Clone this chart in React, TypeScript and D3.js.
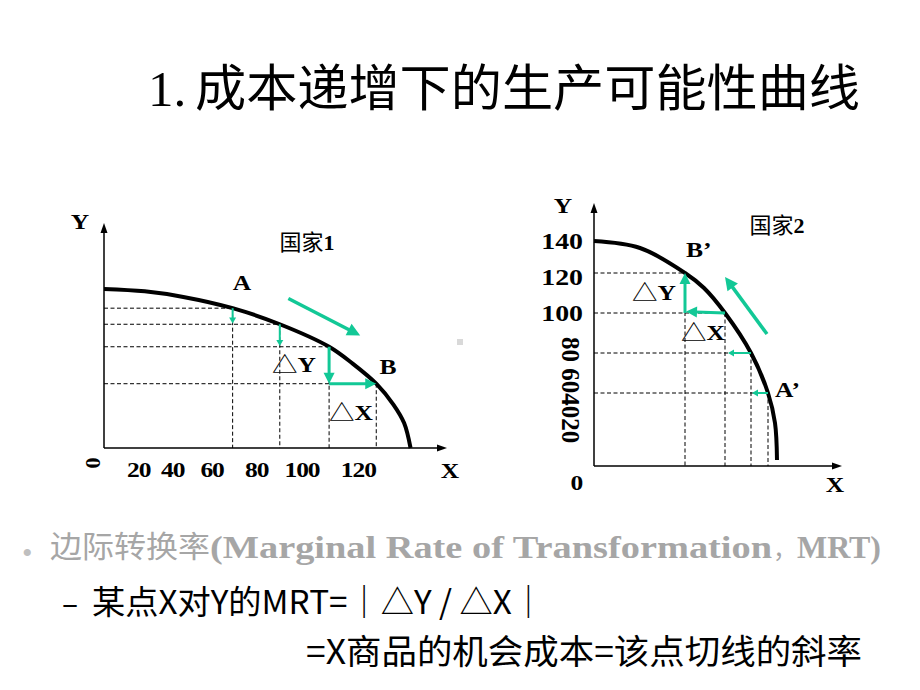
import React from 'react';
import * as d3 from 'd3';

// ---------- data ----------
// Country 1: production possibility curve (X output, Y output)
const curve1X = [0, 19, 37, 60, 82, 105, 116, 127, 135, 140, 143];
const curve1Y = [99, 97.5, 94, 87, 77, 63, 52.5, 40, 27, 15.5, 0];
// marked points on curve 1: A, two intermediate points, B
const pts1X = [60, 82, 105, 127];
const pts1Y = [87, 77, 63, 40];
const xTickLabels1 = ['20', '40', '60', '80', '100', '120'];

// Country 2: production possibility curve
const curve2X = [0, 23, 45.5, 55, 65.5, 78.5, 87, 90.5, 91.5];
const curve2Y = [112.5, 109, 96.5, 89, 76.5, 56.5, 36.5, 21.5, 3];
// marked points on curve 2: B', two intermediate points, A'
const pts2X = [45.5, 65.5, 78.5, 87];
const pts2Y = [96.5, 76.5, 56.5, 36.5];
const yTickLabels2 = ['140', '120', '100'];
const yTickLabels2Rot = '80 604020';

// green arrows (from -> to, data units)
const arr1From = [[60, 87], [82, 77], [105, 63], [105, 40], [86, 93]];
const arr1To = [[60, 77.5], [82, 63.5], [105, 40], [127, 40], [119.5, 70]];
const arr2From = [[87, 36.5], [78.5, 56.5], [65.5, 76.5], [45.5, 76.5], [86.5, 66]];
const arr2To = [[79, 36.5], [67, 56.5], [46, 77.2], [45.5, 96.5], [65.5, 94.5]];

const SERIF = "'Liberation Serif', 'Times New Roman', serif";
const CJK = "'Noto Sans CJK SC', 'Noto Sans CJK JP', sans-serif";
const GREEN = '#12c896';
const SX = 1.16; // horizontal stretch of the serif labels in the original

function Arrow({ x1, y1, x2, y2, w, L, hw }: any) {
  const dx = x2 - x1, dy = y2 - y1;
  const len = Math.hypot(dx, dy);
  const ux = dx / len, uy = dy / len;
  const bx = x2 - ux * L, by = y2 - uy * L;
  const px = -uy, py = ux;
  const pts = [
    [x2, y2],
    [bx + px * hw, by + py * hw],
    [bx - px * hw, by - py * hw],
  ].map(p => p.join(',')).join(' ');
  return (
    <g>
      <line x1={x1} y1={y1} x2={bx + ux * 1} y2={by + uy * 1} stroke={GREEN} strokeWidth={w} />
      <polygon points={pts} fill={GREEN} />
    </g>
  );
}

function AxisArrows({ ox, oy, xEnd, yEnd }: any) {
  return (
    <g>
      <line x1={ox} y1={oy} x2={xEnd - 6} y2={oy} stroke="#000" strokeWidth={1.5} />
      <polygon points={`${xEnd},${oy} ${xEnd - 10},${oy - 3.5} ${xEnd - 10},${oy + 3.5}`} fill="#000" />
      <line x1={ox} y1={oy} x2={ox} y2={yEnd + 6} stroke="#000" strokeWidth={1.5} />
      <polygon points={`${ox},${yEnd} ${ox - 3.5},${yEnd + 10} ${ox + 3.5},${yEnd + 10}`} fill="#000" />
    </g>
  );
}

function Lbl({ x, y, size = 22, anchor = 'middle', rot = 0, children }: any) {
  const t = rot ? `translate(${x},${y}) rotate(${rot})` : `translate(${x},${y}) scale(${SX},1)`;
  return (
    <text transform={t} textAnchor={anchor} fontSize={size} fontFamily={SERIF} fontWeight={700} fill="#000">
      {children}
    </text>
  );
}

export default function App() {
  // scales for chart 1
  const x1 = d3.scaleLinear().domain([0, 160]).range([104, 447]);
  const y1 = d3.scaleLinear().domain([0, 140]).range([448, 223]);
  // scales for chart 2
  const x2 = d3.scaleLinear().domain([0, 124]).range([594, 842]);
  const y2 = d3.scaleLinear().domain([0, 131.5]).range([466, 203]);
  // tick-label placement on chart 2's y axis (a text box in the original)
  const yLab2 = d3.scaleLinear().domain([100, 140]).range([321, 249]);

  const line1 = d3.line<number>()
    .x((_, i) => x1(curve1X[i]))
    .y((d) => y1(d))
    .curve(d3.curveCatmullRom.alpha(0.5));
  const line2 = d3.line<number>()
    .x((_, i) => x2(curve2X[i]))
    .y((d) => y2(d))
    .curve(d3.curveCatmullRom.alpha(0.5));

  const dash = '4 2.5';
  const cjkTri = { fontFamily: CJK, fontWeight: 400 } as const;

  const arrowStyle = (i: number) =>
    i < 2 ? { w: 2, L: 6, hw: 3.5 } : i === 4 ? { w: 3.5, L: 13, hw: 6.5 } : { w: 3, L: 11, hw: 5.5 };

  const tickStr = `${xTickLabels1[0]}  ${xTickLabels1[1]}   ${xTickLabels1[2]}    ${xTickLabels1[3]}   ${xTickLabels1[4]}    ${xTickLabels1[5]}`;

  return (
    <svg width={920} height={690} style={{ position: 'absolute', left: 0, top: 0, background: '#fff' }}>
      <rect x={0} y={0} width={920} height={690} fill="#fff" />

      {/* Title */}
      <text x={148} y={106} fontFamily={SERIF} fontSize={51} fill="#000">1.</text>
      <text x={195} y={106} fontFamily={CJK} fontSize={50} fill="#000" textLength={665} lengthAdjust="spacingAndGlyphs">
        成本递增下的生产可能性曲线
      </text>

      {/* ---------------- Chart 1 ---------------- */}
      <g>
        {pts1X.map((px, i) => (
          <g key={'d1' + i}>
            <line x1={x1(0)} y1={y1(pts1Y[i])} x2={x1(px)} y2={y1(pts1Y[i])} stroke="#000" strokeWidth={1} strokeDasharray={dash} />
            <line x1={x1(px)} y1={y1(pts1Y[i])} x2={x1(px)} y2={y1(0)} stroke="#000" strokeWidth={1} strokeDasharray={dash} />
          </g>
        ))}
        <AxisArrows ox={x1(0)} oy={y1(0)} xEnd={x1(160)} yEnd={y1(140)} />
        <path d={line1(curve1Y) || ''} fill="none" stroke="#000" strokeWidth={4} />
        {arr1From.map((f, i) => {
          const s = arrowStyle(i);
          return <Arrow key={'a1' + i} x1={x1(f[0])} y1={y1(f[1])} x2={x1(arr1To[i][0])} y2={y1(arr1To[i][1])} {...s} />;
        })}
        <Lbl x={80} y={229}>Y</Lbl>
        <Lbl x={450} y={478}>X</Lbl>
        <text transform="translate(94,463) rotate(90)" textAnchor="middle" dy="0.35em" fontSize={22} fontFamily={SERIF} fontWeight={700}>0</text>
        <g transform={`translate(127,477) scale(${SX},1)`}>
          <text x={0} y={0} fontSize={22} fontFamily={SERIF} fontWeight={700} xmlSpace="preserve" style={{ whiteSpace: 'pre' }}
            textLength={250 / SX} lengthAdjust="spacing">
            {tickStr}
          </text>
        </g>
        <text x={307} y={250} textAnchor="middle" fontSize={22}>
          <tspan fontFamily={CJK}>国家</tspan><tspan fontFamily={SERIF} fontWeight={700}>1</tspan>
        </text>
        <Lbl x={242} y={290}>A</Lbl>
        <Lbl x={388} y={374}>B</Lbl>
        <Lbl x={294} y={372}><tspan {...cjkTri}>△</tspan>Y</Lbl>
        <Lbl x={351} y={420}><tspan {...cjkTri}>△</tspan>X</Lbl>
        <rect x={457} y={339} width={6} height={6} fill="#d9d9d9" />
      </g>

      {/* ---------------- Chart 2 ---------------- */}
      <g>
        {pts2X.map((px, i) => (
          <g key={'d2' + i}>
            <line x1={x2(0)} y1={y2(pts2Y[i])} x2={x2(px)} y2={y2(pts2Y[i])} stroke="#000" strokeWidth={1} strokeDasharray={dash} />
            <line x1={x2(px)} y1={y2(pts2Y[i])} x2={x2(px)} y2={y2(0)} stroke="#000" strokeWidth={1} strokeDasharray={dash} />
          </g>
        ))}
        <AxisArrows ox={x2(0)} oy={y2(0)} xEnd={x2(124)} yEnd={y2(131.5)} />
        <path d={line2(curve2Y) || ''} fill="none" stroke="#000" strokeWidth={4} />
        {arr2From.map((f, i) => {
          const s = arrowStyle(i);
          return <Arrow key={'a2' + i} x1={x2(f[0])} y1={y2(f[1])} x2={x2(arr2To[i][0])} y2={y2(arr2To[i][1])} {...s} />;
        })}
        <Lbl x={563} y={213}>Y</Lbl>
        <Lbl x={835} y={492}>X</Lbl>
        <Lbl x={577} y={490}>0</Lbl>
        {yTickLabels2.map((t) => (
          <Lbl key={t} x={583} y={yLab2(+t)} anchor="end" size={24}>{t}</Lbl>
        ))}
        <text transform="translate(571,390) rotate(90)" textAnchor="middle" dy="0.35em" fontSize={25} fontFamily={SERIF} fontWeight={700}>{yTickLabels2Rot}</text>
        <text x={777} y={233} textAnchor="middle" fontSize={22}>
          <tspan fontFamily={CJK}>国家</tspan><tspan fontFamily={SERIF} fontWeight={700}>2</tspan>
        </text>
        <Lbl x={686} y={257} anchor="start">B’</Lbl>
        <Lbl x={775} y={397} anchor="start">A’</Lbl>
        <Lbl x={632} y={300} anchor="start"><tspan {...cjkTri}>△</tspan>Y</Lbl>
        <Lbl x={681} y={340} anchor="start"><tspan {...cjkTri}>△</tspan>X</Lbl>
      </g>

      {/* ---------------- Bottom text ---------------- */}
      <text x={22} y={563} fontFamily={SERIF} fontSize={30} fill="#bfbfbf">•</text>
      <text x={50} y={557} fontFamily={CJK} fontSize={30} fill="#a6a6a6" textLength={160} lengthAdjust="spacingAndGlyphs">边际转换率</text>
      <text x={210} y={558} fontFamily={SERIF} fontWeight={700} fontSize={32} fill="#a6a6a6" textLength={562} lengthAdjust="spacingAndGlyphs">(Marginal Rate of Transformation</text>
      <text x={773} y={558} fontFamily={CJK} fontSize={24} fill="#a6a6a6">，</text>
      <text x={797} y={558} fontFamily={SERIF} fontWeight={700} fontSize={32} fill="#a6a6a6" textLength={84} lengthAdjust="spacingAndGlyphs">MRT)</text>

      <text x={62} y={614} fontFamily={CJK} fontSize={30} fill="#000">–</text>
      <text x={92} y={614} fontFamily={CJK} fontSize={33} fill="#000" textLength={453} lengthAdjust="spacingAndGlyphs">某点X对Y的MRT=｜△Y / △X｜</text>
      <text x={306} y={664} fontFamily={CJK} fontSize={34} fill="#000" textLength={556} lengthAdjust="spacingAndGlyphs">=X商品的机会成本=该点切线的斜率</text>
    </svg>
  );
}
